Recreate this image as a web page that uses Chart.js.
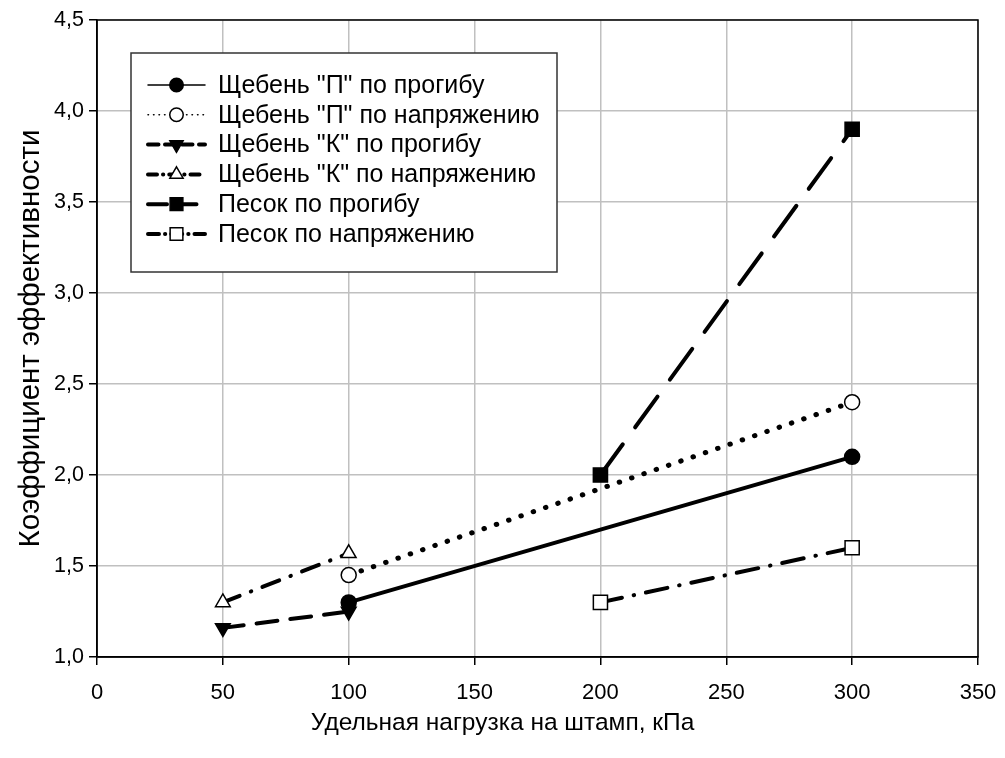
<!DOCTYPE html>
<html>
<head>
<meta charset="utf-8">
<script src="https://cdn.jsdelivr.net/npm/chart.js@4.4.1/dist/chart.umd.min.js"></script>
<style>
  html, body { margin: 0; padding: 0; background: #fff; }
  #wrap { width: 1005px; height: 758px; }
</style>
</head>
<body>
<div id="wrap"><canvas id="c" width="1005" height="758"></canvas></div>
<script>
// data
const seriesNames = [
    'Щебень "П" по прогибу',
    'Щебень "П" по напряжению',
    'Щебень "К" по прогибу',
    'Щебень "К" по напряжению',
    'Песок по прогибу',
    'Песок по напряжению'
];
const xPgravel = [100, 300];
const yPgravelDefl = [1.30, 2.10];
const yPgravelStress = [1.45, 2.40];
const xKgravel = [50, 100];
const yKgravelDefl = [1.16, 1.25];
const yKgravelStress = [1.30, 1.57];
const xSand = [200, 300];
const ySandDefl = [2.00, 3.90];
const ySandStress = [1.30, 1.60];
const xTicks = [0, 50, 100, 150, 200, 250, 300, 350];
const yTicks = ['1,0', '1,5', '2,0', '2,5', '3,0', '3,5', '4,0', '4,5'];

const FONT = "'Liberation Sans', Arial, sans-serif";

function pts(xs, ys) {
    return xs.map((x, i) => ({ x: x, y: ys[i] }));
}

function makeSet(label, data, dash, style, filled, radius, rotation, width) {
    return {
        label: label,
        data: data,
        borderColor: '#000',
        borderWidth: width || 4,
        borderDash: dash,
        borderCapStyle: 'round',
        pointStyle: style,
        pointRotation: rotation || 0,
        pointRadius: radius,
        pointHoverRadius: radius,
        pointBackgroundColor: filled ? '#000' : '#fff',
        pointBorderColor: '#000',
        pointBorderWidth: 1.5,
        tension: 0,
        fill: false
    };
}

const datasets = [
    makeSet(seriesNames[0], pts(xPgravel, yPgravelDefl), [], 'circle', true, 7.5),
    makeSet(seriesNames[1], pts(xPgravel, yPgravelStress), [0.5, 12.5], 'circle', false, 7.5, 0, 5),
    makeSet(seriesNames[2], pts(xKgravel, yKgravelDefl), [21, 13], 'triangle', true, 8.5, 180),
    makeSet(seriesNames[3], pts(xKgravel, yKgravelStress), [18, 12, 0.5, 12], 'triangle', false, 8.5),
    makeSet(seriesNames[4], pts(xSand, ySandDefl), [38, 21], 'rect', true, 10),
    makeSet(seriesNames[5], pts(xSand, ySandStress), [22, 12, 0.5, 12], 'rect', false, 10)
];

// plot frame (top and right edges too, like the original)
const framePlugin = {
    id: 'frame',
    beforeDatasetsDraw(chart) {
        const a = chart.chartArea, ctx = chart.ctx;
        ctx.save();
        ctx.strokeStyle = '#000';
        ctx.lineWidth = 1.5;
        ctx.strokeRect(a.left, a.top, a.right - a.left, a.bottom - a.top);
        ctx.restore();
    }
};

// boxed legend with line sample + marker
const boxLegend = {
    id: 'boxLegend',
    afterDraw(chart) {
        const ctx = chart.ctx, a = chart.chartArea;
        const bx = a.left + 34, by = a.top + 33, bw = 426, bh = 219;
        const rowH = 29.8, firstRow = by + 32;
        ctx.save();
        ctx.fillStyle = '#fff';
        ctx.fillRect(bx, by, bw, bh);
        ctx.strokeStyle = '#333';
        ctx.lineWidth = 1.5;
        ctx.strokeRect(bx, by, bw, bh);
        chart.data.datasets.forEach((ds, i) => {
            const y = firstRow + i * rowH;
            const x1 = bx + 17, x2 = bx + 74, xm = (x1 + x2) / 2;
            ctx.save();
            ctx.strokeStyle = '#000';
            ctx.lineWidth = i < 2 ? 1.5 : ds.borderWidth;
            ctx.lineCap = 'round';
            ctx.setLineDash(i === 1 ? [0.5, 5] : ds.borderDash.map(d => d * 0.5));
            ctx.beginPath();
            ctx.moveTo(x1, y);
            ctx.lineTo(x2, y);
            ctx.stroke();
            ctx.restore();
            ctx.save();
            ctx.fillStyle = ds.pointBackgroundColor;
            ctx.strokeStyle = ds.pointBorderColor;
            ctx.lineWidth = ds.pointBorderWidth;
            Chart.helpers.drawPoint(ctx, {
                pointStyle: ds.pointStyle,
                rotation: ds.pointRotation,
                radius: ds.pointRadius * 0.9,
                borderWidth: ds.pointBorderWidth
            }, xm, y);
            ctx.restore();
            ctx.fillStyle = '#000';
            ctx.font = '25px ' + FONT;
            ctx.textBaseline = 'middle';
            ctx.textAlign = 'left';
            ctx.fillText(ds.label, bx + 87, y + 1);
        });
        ctx.restore();
    }
};

new Chart(document.getElementById('c'), {
    type: 'line',
    data: { datasets: datasets },
    options: {
        responsive: false,
        animation: false,
        events: [],
        layout: { padding: { top: 20, right: 0, left: 0, bottom: 0 } },
        plugins: {
            legend: { display: false },
            tooltip: { enabled: false },
            title: {
                display: true,
                position: 'bottom',
                fullSize: true,
                text: 'Удельная нагрузка на штамп, кПа',
                color: '#000',
                font: { family: FONT, size: 24.5, weight: 'normal' },
                padding: { top: 7, bottom: 20 }
            }
        },
        scales: {
            x: {
                type: 'linear',
                min: 0,
                max: 350,
                afterFit(s) { s.height = 44.6; s.paddingLeft = 0; s.paddingRight = 27; },
                afterBuildTicks(s) { s.ticks = xTicks.map(v => ({ value: v })); },
                ticks: {
                    color: '#000',
                    font: { family: FONT, size: 22 },
                    padding: 15,
                    maxRotation: 0,
                    callback: v => String(v)
                },
                grid: { color: '#c0c0c0', lineWidth: 1.5, tickColor: '#000', tickLength: 8 },
                border: { color: '#000', width: 1.5 }
            },
            y: {
                type: 'linear',
                min: 1,
                max: 4.5,
                afterFit(s) { s.width = 97; },
                afterBuildTicks(s) { s.ticks = yTicks.map((t, i) => ({ value: 1 + i * 0.5 })); },
                ticks: {
                    color: '#000',
                    font: { family: FONT, size: 21.5 },
                    padding: 5,
                    callback: (v, i) => yTicks[i]
                },
                grid: { color: '#c0c0c0', lineWidth: 1.5, tickColor: '#000', tickLength: 8 },
                border: { color: '#000', width: 1.5 },
                title: {
                    display: true,
                    text: 'Коэффициент эффективности',
                    color: '#000',
                    font: { family: FONT, size: 29.5 },
                    padding: { top: 13, bottom: 0 }
                }
            }
        }
    },
    plugins: [framePlugin, boxLegend]
});
</script>
</body>
</html>
